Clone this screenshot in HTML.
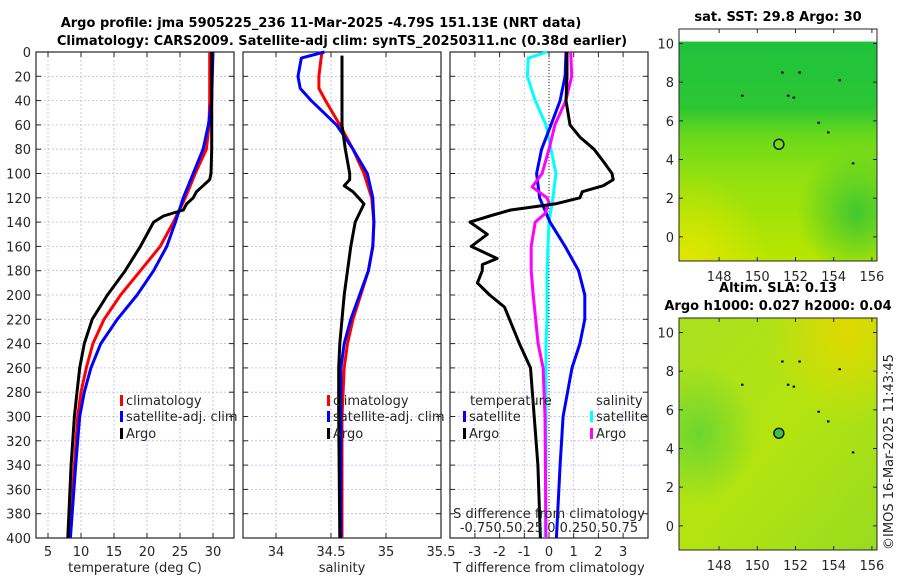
<!DOCTYPE html>
<html><head><meta charset="utf-8"><style>
body{margin:0;background:#fff;}
svg{display:block;font-family:"DejaVu Sans","Liberation Sans",sans-serif;}
</style></head><body>
<svg id="c" width="900" height="580" viewBox="0 0 900 580">
<defs>
<linearGradient id="sstg" x1="0" y1="0" x2="0" y2="1">
<stop offset="0" stop-color="#1ec23c"/><stop offset="0.3" stop-color="#2cc634"/><stop offset="0.42" stop-color="#66d81c"/><stop offset="0.6" stop-color="#90e010"/><stop offset="1" stop-color="#b8e600"/>
</linearGradient>
<radialGradient id="sstb" cx="0.9" cy="0.78" r="0.3"><stop offset="0" stop-color="#28c238" stop-opacity="0.8"/><stop offset="1" stop-color="#28c238" stop-opacity="0"/></radialGradient>
<radialGradient id="ssty" cx="0.05" cy="1" r="0.4"><stop offset="0" stop-color="#e0e600"/><stop offset="1" stop-color="#e0e600" stop-opacity="0"/></radialGradient>
<linearGradient id="slag" x1="0" y1="0" x2="1" y2="1">
<stop offset="0" stop-color="#a8e020"/><stop offset="0.5" stop-color="#b4e410"/><stop offset="1" stop-color="#98dc20"/>
</linearGradient>
<radialGradient id="slao" cx="0.85" cy="0.05" r="0.4"><stop offset="0" stop-color="#e0d800"/><stop offset="1" stop-color="#e0d800" stop-opacity="0"/></radialGradient>
<radialGradient id="slag2" cx="0.1" cy="0.5" r="0.3"><stop offset="0" stop-color="#6cd630"/><stop offset="1" stop-color="#6cd630" stop-opacity="0"/></radialGradient>
</defs>
</svg>
<script>
// ---- data ----
const depthsT = [0,20,40,60,80,100,105,110,115,120,125,130,135,140,160,180,200,220,240,260,280,300,340,400];
const argoT   = [29.8,29.8,29.8,29.8,29.8,29.7,29.5,28.5,27.5,27,26,25.5,22.5,21,19,16.7,14,11.7,10.5,9.8,9.4,9,8.5,8.0];
const depthsC = [0,20,40,60,80,100,120,140,160,180,200,220,240,260,280,300,340,400];
const climT   = [29.5,29.5,29.5,29.4,29,27.3,25.8,24,22,19,16,13.5,11.8,10.8,10,9.5,9,8.3];
const satT    = [30,29.9,29.8,29.3,28.5,27,25.5,24.3,23,21,18.5,15.5,13,11.5,10.5,9.8,9.2,8.4];

const depthsSA = [3,20,40,60,80,100,105,110,115,120,125,140,160,180,200,220,240,260,300,400];
const argoS    = [34.6,34.6,34.6,34.6,34.63,34.67,34.67,34.62,34.7,34.75,34.8,34.72,34.68,34.65,34.62,34.6,34.58,34.57,34.57,34.58];
const depthsS  = [0,5,20,30,40,60,80,100,120,140,160,180,200,220,240,260,300,400];
const climS    = [34.42,34.41,34.39,34.39,34.45,34.58,34.7,34.8,34.87,34.89,34.88,34.84,34.77,34.7,34.65,34.62,34.6,34.6];
const satS     = [34.44,34.23,34.2,34.22,34.32,34.55,34.7,34.83,34.88,34.89,34.88,34.84,34.76,34.68,34.62,34.59,34.59,34.59];

const depthsD = [0,5,20,40,60,80,100,120,140,160,180,200,220,240,260,300,340,400];
const satSdiff= [-0.02,-0.21,-0.22,-0.14,-0.03,0.02,0.07,0.04,0,-0.01,-0.02,-0.02,-0.02,-0.03,-0.03,-0.03,-0.03,-0.04];
const satTdiff= [0.69,0.68,0.65,0.45,0.08,-0.3,-0.5,-0.38,0.04,0.65,1.2,1.45,1.45,1.25,0.93,0.57,0.45,0.3];
const depthsAS= [0,20,40,60,80,100,111,120,124,133,140,160,180,200,240,260,300,400];
const argoSdiff=[0.22,0.23,0.17,0.06,0,-0.07,-0.17,-0.02,0,-0.04,-0.14,-0.18,-0.18,-0.16,-0.11,-0.06,-0.04,-0.03];
const depthsAT= [0,20,40,60,70,80,90,100,105,110,115,120,125,130,135,140,150,160,170,175,180,190,200,210,220,240,260,300,340,400];
const argoTdiff=[0.73,0.73,0.69,0.85,1.25,1.82,2.2,2.55,2.6,2.2,1.35,1.25,0.25,-1.55,-2.4,-3.2,-2.5,-3.15,-2.1,-2.7,-2.7,-2.9,-2.4,-1.8,-1.6,-1.2,-0.75,-0.6,-0.45,-0.35];

const depthTicks = [0,20,40,60,80,100,120,140,160,180,200,220,240,260,280,300,320,340,360,380,400];
const tTicks = [5,10,15,20,25,30];
const sTicks = [34,34.5,35,35.5];
const dTicks = [-3,-2,-1,0,1,2,3];
const latTicks = [0,2,4,6,8,10];
const lonTicks = [148,150,152,154,156];

// ---- helpers ----
const NS="http://www.w3.org/2000/svg";
const svg=document.getElementById('c');
function el(tag,attrs,parent){const e=document.createElementNS(NS,tag);for(const k in attrs)e.setAttribute(k,attrs[k]);(parent||svg).appendChild(e);return e;}
function txt(x,y,s,attrs){const t=el('text',Object.assign({x:x,y:y,'font-size':13,fill:'#262626'},attrs||{}));t.textContent=s;return t;}
const Y0=52, Y1=538;
const yD=d=>Y0+(d/400)*(Y1-Y0);

function panel(name,x0,x1,xs,ticks,tickFmt,label,withY){
  const g=el('g',{});
  
  
  depthTicks.forEach(d=>{el('line',{x1:x0,x2:x1,y1:yD(d),y2:yD(d),stroke:'#b8bce8','stroke-width':0.8,'stroke-dasharray':'2,2'},g);});
  ticks.forEach(t=>{const x=xs(t);el('line',{x1:x,x2:x,y1:Y0,y2:Y1,stroke:'#b8bce8','stroke-width':0.8,'stroke-dasharray':'2,2'},g);});
  el('rect',{x:x0,y:Y0,width:x1-x0,height:Y1-Y0,fill:'none',stroke:'#262626','stroke-width':1.2},g);
  depthTicks.forEach(d=>{el('line',{x1:x0,x2:x0+5,y1:yD(d),y2:yD(d),stroke:'#262626'},g);el('line',{x1:x1-5,x2:x1,y1:yD(d),y2:yD(d),stroke:'#262626'},g);
    if(withY){const t=txt(31,yD(d)+5,String(d),{'text-anchor':'end'});}});
  ticks.forEach(t=>{const x=xs(t);el('line',{x1:x,x2:x,y1:Y1,y2:Y1-5,stroke:'#262626'},g);el('line',{x1:x,x2:x,y1:Y0,y2:Y0+5,stroke:'#262626'},g);
    const l=txt(x,556,tickFmt(t),{'text-anchor':'middle'});});
  const lb=txt((x0+x1)/2,572,label,{'text-anchor':'middle'});
  
  
  return g;
}
function line(name,depths,vals,xs,color){
  const p=depths.map((d,i)=>(i?'L':'M')+xs(vals[i]).toFixed(1)+','+yD(d).toFixed(1)).join('');
  const e=el('path',{d:p,fill:'none',stroke:color,'stroke-width':3,'stroke-linejoin':'round'});
  
  
}
function legend(x,y,color,label){
  const g=el('g',{});
  
  
  el('rect',{x:x,y:y-10,width:3,height:11,fill:color},g);
  const t=txt(x+6,y,label);g.appendChild(t);
}

// titles
let t1=txt(321,27,'Argo profile: jma 5905225_236 11-Mar-2025 -4.79S 151.13E (NRT data)',{'text-anchor':'middle','font-weight':'bold','fill':'#000'});


let t2=txt(342,45,'Climatology: CARS2009. Satellite-adj clim: synTS_20250311.nc (0.38d earlier)',{'text-anchor':'middle','font-weight':'bold','fill':'#000'});



// panel 1 temperature
const xT=t=>48+(t-5)*6.6;
panel('temperature-panel',36,234,xT,tTicks,String,'temperature (deg C)',true);
line('temperature-climatology-line',depthsC,climT,xT,'#ff0000');
line('temperature-satellite-line',depthsC,satT,xT,'#0000ff');
line('temperature-argo-line',depthsT,argoT,xT,'#000000');
legend(120,405,'#ff0000','climatology');
legend(120,421,'#0000ff','satellite-adj. clim');
legend(120,438,'#000000','Argo');

// panel 2 salinity
const xS=s=>331+(s-34.5)*110;
panel('salinity-panel',243,441,xS,sTicks,String,'salinity',false);
line('salinity-climatology-line',depthsS,climS,xS,'#ff0000');
line('salinity-satellite-line',depthsS,satS,xS,'#0000ff');
line('salinity-argo-line',depthsSA,argoS,xS,'#000000');
legend(327,405,'#ff0000','climatology');
legend(327,421,'#0000ff','satellite-adj. clim');
legend(327,438,'#000000','Argo');

// panel 3 differences
const xDT=t=>549+t*24.7;
const xDS=s=>549+s*98.8;
panel('difference-panel',450,648,xDT,dTicks,String,'T difference from climatology',false);
el('line',{x1:549,x2:549,y1:Y0,y2:Y1,stroke:'#333','stroke-width':1,'stroke-dasharray':'1,2'});
line('salinity-satellite-diff-line',depthsD,satSdiff,xDS,'#00ffff');
line('temperature-satellite-diff-line',depthsD,satTdiff,xDT,'#0000ff');
line('salinity-argo-diff-line',depthsAS,argoSdiff,xDS,'#ff00ff');
line('temperature-argo-diff-line',depthsAT,argoTdiff,xDT,'#000000');
txt(470,405,'temperature');txt(596,405,'salinity');
legend(463,421,'#0000ff','satellite');
legend(463,438,'#000000','Argo');
legend(590,421,'#00ffff','satellite');
legend(590,438,'#ff00ff','Argo');
let sl=txt(549,518,'S difference from climatology',{'text-anchor':'middle'});


let st=txt(549,532,'-0.750.50.25 0  0.250.50.75',{'text-anchor':'middle'});



// maps
function map(name,y0,y1,title,title2,kind){
  const x0=679,x1=877;
  const g=el('g',{});
  
  
  const lonX=l=>x0+(l-145.9)*19.1;
  const yLat=v=>(y1-(y1-y0)*((v+1.25)/(10.75+1.25)));
  const top=yLat(10.1);
  if(kind==='sst'){
    el('rect',{x:x0,y:top,width:x1-x0,height:y1-top,fill:'url(#sstg)'},g);
    el('rect',{x:x0,y:top,width:x1-x0,height:y1-top,fill:'url(#sstb)'},g);
    el('rect',{x:x0,y:top,width:x1-x0,height:y1-top,fill:'url(#ssty)'},g);
  } else {
    el('rect',{x:x0,y:y0,width:x1-x0,height:y1-y0,fill:'url(#slag)'},g);
    el('rect',{x:x0,y:y0,width:x1-x0,height:y1-y0,fill:'url(#slao)'},g);
    el('rect',{x:x0,y:y0,width:x1-x0,height:y1-y0,fill:'url(#slag2)'},g);
  }
  el('rect',{x:x0,y:y0,width:x1-x0,height:y1-y0,fill:'none',stroke:'#262626','stroke-width':1},g);
  latTicks.forEach(v=>{const y=yLat(v);el('line',{x1:x0,x2:x0+4,y1:y,y2:y,stroke:'#262626'},g);el('line',{x1:x1-4,x2:x1,y1:y,y2:y,stroke:'#262626'},g);
    const l=txt(674,y+5,String(v),{'text-anchor':'end'});g.appendChild(l);});
  lonTicks.forEach(v=>{const x=lonX(v);el('line',{x1:x,x2:x,y1:y1,y2:y1-4,stroke:'#262626'},g);el('line',{x1:x,x2:x,y1:y0,y2:y0+4,stroke:'#262626'},g);
    const l=txt(x,y1+20,String(v),{'text-anchor':'middle'});g.appendChild(l);});
  [[151.6,7.3],[151.9,7.2],[154.3,8.1],[153.2,5.9],[153.7,5.4],[149.2,7.3],[152.2,8.5],[151.3,8.5],[155,3.8]].forEach(p=>{el('rect',{x:lonX(p[0])-1,y:yLat(p[1])-1,width:2.5,height:2,fill:'#000'},g);});
  const c=el('circle',{cx:lonX(151.13),cy:yLat(4.79),r:5,fill:kind==='sst'?'none':'#40c040',stroke:'#000','stroke-width':1.3},g);
  
  
  const t=txt((x0+x1)/2,y0-8-(title2?18:0),title,{'text-anchor':'middle','font-weight':'bold',fill:'#000'});g.appendChild(t);
  if(title2){const t2=txt((x0+x1)/2,y0-8,title2,{'text-anchor':'middle','font-weight':'bold',fill:'#000'});g.appendChild(t2);}
}
map('sst-map',29,261,'sat. SST: 29.8 Argo: 30',null,'sst');
map('sla-map',318,550,'Altim. SLA: 0.13','Argo h1000: 0.027 h2000: 0.04','sla');

let cp=txt(0,0,'©IMOS 16-Mar-2025 11:43:45',{'text-anchor':'middle','transform':'translate(893,452) rotate(-90)'});


</script>
</body></html>
